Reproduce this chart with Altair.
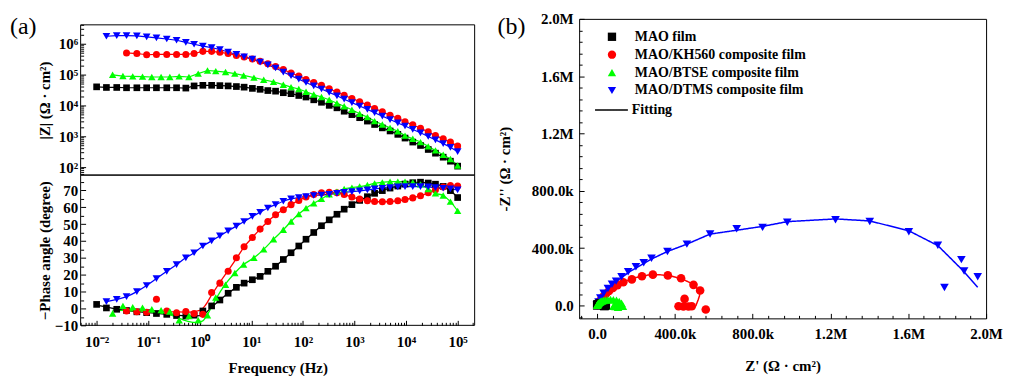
import altair as alt
import pandas as pd

FONT = "Liberation Serif"

SERIES = ["MAO film", "MAO/KH560 composite film", "MAO/BTSE composite film", "MAO/DTMS composite film"]
FIT_NAME = "Fitting"
COLORS = ["#000000", "#ff0000", "#00ff00", "#0000ff"]
SHAPES = ["square", "circle", "triangle-up", "triangle-down"]
BODE_SIZES = [45, 60, 65, 65]

# ---------------- Bode data (log10 of frequency / |Z|) ----------------
LOGF_LOW = [-2.00, -1.81, -1.61, -1.42, -1.22, -1.03, -0.84, -0.64, -0.45, -0.27, -0.11,
            0.06, 0.23, 0.39, 0.55, 0.71, 0.86, 1.02, 1.17, 1.32, 1.47]
LOGF_HIGH = [1.62, 1.77, 1.92, 2.06, 2.21, 2.36, 2.51, 2.66, 2.80, 2.95, 3.10, 3.25,
             3.39, 3.54, 3.69, 3.84, 3.98, 4.13, 4.28, 4.43, 4.57, 4.72, 4.86, 5.00]
LOGF_BTSE_LOW = [-1.69, -1.49, -1.30, -1.11, -0.93, -0.75, -0.58, -0.40, -0.21, -0.03,
                 0.15, 0.31, 0.50, 0.68, 0.85, 1.05, 1.24, 1.43]

LOGF_MAO = LOGF_LOW + LOGF_HIGH
LOGF_KH560 = LOGF_LOW[3:] + LOGF_HIGH
LOGF_BTSE = LOGF_BTSE_LOW + LOGF_HIGH
LOGF_DTMS = LOGF_LOW[1:] + LOGF_HIGH

LOGZ_MAO = [4.60, 4.58, 4.58, 4.57, 4.57, 4.57, 4.57, 4.57, 4.57, 4.56, 4.63, 4.65, 4.65, 4.64, 4.63,
            4.61, 4.59, 4.55, 4.52, 4.48, 4.46,
            4.41, 4.38, 4.32, 4.27, 4.18, 4.10, 4.00, 3.92, 3.81, 3.70, 3.60, 3.49, 3.38, 3.27, 3.17,
            3.06, 2.94, 2.81, 2.70, 2.57, 2.45, 2.32, 2.19, 2.03]
LOGZ_KH560 = [5.70, 5.68, 5.64, 5.65, 5.65, 5.65, 5.65, 5.68, 5.75, 5.75, 5.72, 5.68, 5.62, 5.57, 5.50,
              5.43, 5.35, 5.26,
              5.16, 5.05, 4.95, 4.84, 4.74, 4.65, 4.54, 4.43, 4.33, 4.22, 4.12, 4.01, 3.90, 3.79, 3.68,
              3.58, 3.47, 3.37, 3.26, 3.14, 3.02, 2.92, 2.81, 2.68]
LOGZ_BTSE = [4.99, 4.95, 4.94, 4.93, 4.92, 4.92, 4.92, 4.94, 4.92, 5.03, 5.13, 5.11, 5.08, 5.03, 4.97,
             4.90, 4.83, 4.76,
             4.67, 4.59, 4.53, 4.44, 4.35, 4.27, 4.18, 4.07, 3.97, 3.86, 3.73, 3.62, 3.49, 3.38, 3.27,
             3.16, 3.02, 2.92, 2.81, 2.67, 2.54, 2.40, 2.26, 2.05]
LOGZ_DTMS = [6.24, 6.26, 6.26, 6.25, 6.22, 6.19, 6.15, 6.11, 6.04, 5.98, 5.92, 5.87, 5.81, 5.73, 5.65,
             5.57, 5.50, 5.40, 5.31, 5.21,
             5.08, 4.96, 4.85, 4.74, 4.63, 4.53, 4.42, 4.31, 4.20, 4.09, 3.98, 3.87, 3.76, 3.65, 3.54,
             3.43, 3.33, 3.22, 3.11, 2.99, 2.88, 2.76, 2.64, 2.50]

PHASE_MAO = [2.4, 0.3, -0.5, -1.2, -2.0, -2.5, -3.0, -3.5, -4.2, -4.5, -4.0, -1.5, 1.5, 5.0, 9.0,
             12.5, 15.0, 17.0, 19.0, 22.0, 25.0,
             29.0, 33.0, 37.0, 41.0, 45.0, 49.0, 52.5, 55.8, 58.8, 61.5, 64.0, 66.2, 68.2, 69.8, 71.3,
             72.5, 73.7, 74.5, 74.8, 74.3, 73.6, 72.3, 69.8, 65.7]
PHASE_KH560 = [-1.5, -2.0, -2.3, 5.4, -1.5, -2.5, -1.8, -3.0, -3.5, 9.5, 15.0, 22.0, 30.0, 36.5, 42.0,
               47.0, 51.5, 55.5,
               58.5, 61.5, 64.0, 66.0, 67.5, 68.5, 68.8, 68.5, 67.5, 66.0, 64.8, 63.8, 63.3, 63.2, 63.3,
               63.8, 64.5, 65.5, 66.8, 68.5, 70.3, 72.0, 72.8, 72.5]
PHASE_BTSE = [-3.0, 1.5, 0.8, 0.5, -0.5, -1.0, -1.8, -7.0, -4.5, -7.0, -4.0, 6.5, 14.0, 21.0, 26.0,
              30.0, 35.0, 41.0,
              46.6, 51.5, 55.9, 59.4, 62.3, 64.9, 67.6, 69.2, 70.8, 71.6, 72.2, 73.1, 74.1, 74.7, 75.1,
              75.1, 75.1, 74.7, 73.5, 70.8, 68.2, 66.9, 63.3, 57.8]
PHASE_DTMS = [4.0, 5.4, 7.0, 10.0, 13.6, 17.7, 22.0, 26.0, 30.0, 33.0, 37.0, 40.0, 43.0, 46.0, 48.8,
              51.5, 54.5, 57.0, 59.5, 61.5,
              63.5, 64.9, 65.7, 66.3, 66.9, 67.2, 67.6, 68.2, 68.8, 69.2, 69.6, 70.2, 70.8, 71.2, 71.6,
              72.0, 72.2, 72.2, 72.2, 72.0, 71.6, 71.2, 70.8, 70.2]

# fitted phase curves at low frequency (they leave the scattered points)
FIT_LOGF_MAO_LOW = [-2.00, -1.50, -1.00, -0.50, -0.20, 0.00, 0.10, 0.23, 0.39]
FIT_PHASE_MAO_LOW = [2.0, -0.8, -2.5, -3.8, -4.6, -4.3, -3.0, 0.8, 5.0]
FIT_LOGF_KH560_LOW = [-1.42, -1.00, -0.50, -0.20, 0.00, 0.10, 0.23, 0.39, 0.55, 0.71]
FIT_PHASE_KH560_LOW = [-1.0, -1.5, -2.0, -2.2, -1.2, 1.5, 8.0, 15.5, 22.5, 29.5]
FIT_LOGF_BTSE_LOW = [-1.69, -1.20, -0.80, -0.50, -0.30, -0.10, 0.05, 0.15, 0.31, 0.50, 0.68, 0.85]
FIT_PHASE_BTSE_LOW = [-1.0, -1.5, -2.5, -4.5, -7.0, -8.3, -7.5, -3.5, 5.5, 14.5, 21.0, 26.0]

# ---------------- Nyquist data (kOhm cm2) ----------------
NYQ_MAO_RE = [1, 2, 3, 4.5, 6.4, 9, 11, 14, 17, 21, 25, 30, 34, 38, 42, 44, 45, 42, 39, 37, 37, 38, 38, 39]
NYQ_MAO_IM = [2, 3, 4.5, 6, 7.7, 9, 10, 11, 12, 12, 11.5, 11, 10, 8.5, 6.5, 4, 1, -1, -2.5, -3, -2, -1, 0, 1]
NYQ_KH560_RE = [2, 5, 9, 15, 23, 33, 46, 62, 82, 105, 135, 179, 231, 287, 364, 432, 496, 530, 450, 419,
                444, 470, 487, 559]
NYQ_KH560_IM = [4, 10, 19, 30, 45, 62, 82, 102, 122, 142, 162, 182, 204, 215, 210, 190, 144, 104, 46, -5,
                -7, -7, -5, -28]
NYQ_BTSE_RE = [1, 2, 4, 6, 9, 14, 19, 25, 32, 43, 55, 69, 84, 100, 114, 126, 133, 108, 95, 85, 88, 90, 92, 96]
NYQ_BTSE_IM = [2, 5, 9, 13, 17, 23, 28, 31, 34, 38, 40, 41, 40, 36, 28, 15, -5, -12, -8, -5, 0, -2, 1, 3]
NYQ_DTMS_RE = [0, 3, 8, 17, 34, 56, 77, 98, 126, 160, 200, 240, 280, 362, 462, 581, 718, 851, 978, 1226,
               1402, 1603, 1752, 1873, 1887, 1957, 1786]
NYQ_DTMS_IM = [5, 12, 25, 52, 85, 118, 148, 170, 200, 236, 270, 298, 330, 377, 428, 498, 535, 545, 580, 598,
               586, 515, 420, 320, 240, 200, 125]

FIT_MAO_RE = [0, 5, 10, 15, 20, 26, 32, 38, 42, 45, 44, 40, 37]
FIT_MAO_IM = [0, 7, 10, 11.5, 12, 11.5, 10.5, 8, 5.5, 1.5, -1, -2.5, -2.5]
FIT_KH560_RE = [0, 10, 30, 60, 100, 150, 200, 260, 320, 380, 432, 480, 510, 528, 527, 520, 512, 508]
FIT_KH560_IM = [0, 20, 58, 100, 140, 170, 195, 212, 215, 205, 188, 158, 125, 95, 68, 40, 12, -3]
FIT_BTSE_RE = [0, 10, 25, 45, 70, 95, 115, 128, 132, 122, 105, 92]
FIT_BTSE_IM = [0, 18, 31, 38, 41, 37, 27, 12, -4, -12, -11, -5]
FIT_DTMS_RE = [0, 10, 30, 60, 100, 170, 277, 362, 462, 581, 718, 851, 978, 1226, 1402, 1603, 1752, 1880, 1957]
FIT_DTMS_IM = [0, 25, 70, 120, 168, 238, 322, 377, 428, 498, 525, 552, 585, 604, 590, 521, 418, 245, 127]

# ---------------- scales domains and ticks ----------------
W_L, H_L = 396, 308          # left column: |Z| panel on top of phase panel (6 px free on top)
W_R, H_R = 409, 301

FREQ_DOMAIN = [10 ** -2.31, 10 ** 5.33]
MAG_FRAME = [10 ** 1.74, 10 ** 6.61]          # visible |Z| range of the upper panel
MAG_DOMAIN = [10 ** -3.13, 10 ** 6.8035]      # full column height in |Z| units
PHASE_FRAME = [-10, 79]                        # visible phase range of the lower panel
PHASE_DOMAIN = [-10, 171.54]                   # full column height in phase units
NYQ_X_DOMAIN = [-92000, 2000000]
NYQ_Y_DOMAIN = [-90000, 2000000]

FREQ_MAJOR = [0.01, 0.1, 1, 10, 100, 1000, 10000, 100000]
FREQ_MINOR = [m * 10.0 ** k for k in range(-3, 6) for m in range(2, 10)
              if FREQ_DOMAIN[0] <= m * 10.0 ** k <= FREQ_DOMAIN[1]]
MAG_MAJOR = [100, 1000, 10000, 100000, 1000000]
MAG_MINOR = [m * 10.0 ** k for k in range(1, 7) for m in range(2, 10)
             if MAG_FRAME[0] <= m * 10.0 ** k <= MAG_FRAME[1]]
PHASE_MAJOR = [-10, 0, 10, 20, 30, 40, 50, 60, 70]
PHASE_MINOR = [-5, 5, 15, 25, 35, 45, 55, 65, 75]
NYQ_MAJOR = [0, 400000, 800000, 1200000, 1600000, 2000000]
NYQ_MINOR = [k * 80000 for k in range(-1, 26) if k % 5 != 0]

SUP_EXPR = ("'10' + ['⁻³','⁻²','⁻¹','⁰','¹','²','³','⁴','⁵','⁶']"
            "[round(log(datum.value)/LN10)+3]")
NYQ_EXPR = ("datum.value == 0 ? '0.0' : (datum.value < 1000000 ? "
            "format(datum.value/1000, '.1f') + 'k' : format(datum.value/1000000, '.1f') + 'M')")
PHASE_EXPR = "datum.value < 0 ? '−' + abs(datum.value) : '' + datum.value"

AX = dict(labelFont=FONT, titleFont=FONT, labelFontWeight="bold", titleFontWeight="bold",
          labelColor="black", titleColor="black", tickColor="black", labelFontSize=15,
          titleFontSize=15, tickWidth=1, domain=False, grid=False, labelFlush=False)

# ---------------- build tables ----------------
def rows(name, xs, ys, fx=lambda v: v, fy=lambda v: v):
    return pd.DataFrame({"series": name, "x": [fx(v) for v in xs], "y": [fy(v) for v in ys],
                         "i": list(range(len(xs)))})


p10 = lambda v: 10 ** v
k1 = lambda v: v * 1000

mag_df = pd.concat([
    rows(SERIES[0], LOGF_MAO, LOGZ_MAO, p10, p10),
    rows(SERIES[1], LOGF_KH560, LOGZ_KH560, p10, p10),
    rows(SERIES[2], LOGF_BTSE, LOGZ_BTSE, p10, p10),
    rows(SERIES[3], LOGF_DTMS, LOGZ_DTMS, p10, p10),
])
phase_df = pd.concat([
    rows(SERIES[0], LOGF_MAO, PHASE_MAO, p10),
    rows(SERIES[1], LOGF_KH560, PHASE_KH560, p10),
    rows(SERIES[2], LOGF_BTSE, PHASE_BTSE, p10),
    rows(SERIES[3], LOGF_DTMS, PHASE_DTMS, p10),
])
phase_fit_df = pd.concat([
    rows(SERIES[0], FIT_LOGF_MAO_LOW + LOGF_MAO[14:], FIT_PHASE_MAO_LOW + PHASE_MAO[14:], p10),
    rows(SERIES[1], FIT_LOGF_KH560_LOW + LOGF_KH560[13:], FIT_PHASE_KH560_LOW + PHASE_KH560[13:], p10),
    rows(SERIES[2], FIT_LOGF_BTSE_LOW + LOGF_BTSE[15:], FIT_PHASE_BTSE_LOW + PHASE_BTSE[15:], p10),
    rows(SERIES[3], LOGF_DTMS, PHASE_DTMS, p10),
])
nyq_df = pd.concat([
    rows(SERIES[1], NYQ_KH560_RE, NYQ_KH560_IM, k1, k1),
    rows(SERIES[3], NYQ_DTMS_RE, NYQ_DTMS_IM, k1, k1),
    rows(SERIES[0], NYQ_MAO_RE, NYQ_MAO_IM, k1, k1),
    rows(SERIES[2], NYQ_BTSE_RE, NYQ_BTSE_IM, k1, k1),
])
nyq_fit_df = pd.concat([
    rows(SERIES[0], FIT_MAO_RE, FIT_MAO_IM, k1, k1),
    rows(SERIES[1], FIT_KH560_RE, FIT_KH560_IM, k1, k1),
    rows(SERIES[2], FIT_BTSE_RE, FIT_BTSE_IM, k1, k1),
    rows(SERIES[3], FIT_DTMS_RE, FIT_DTMS_IM, k1, k1),
])
nyq_fit_df["fit"] = FIT_NAME
one = pd.DataFrame({"a": [0]})

# ---------------- scales / encodings ----------------
color_scale = alt.Scale(domain=SERIES, range=COLORS)
shape_scale = alt.Scale(domain=SERIES, range=SHAPES)
size_scale = alt.Scale(domain=SERIES, range=BODE_SIZES)
fscale = alt.Scale(type="log", domain=FREQ_DOMAIN, nice=False)
mscale = alt.Scale(type="log", domain=MAG_DOMAIN, nice=False)
pscale = alt.Scale(domain=PHASE_DOMAIN, nice=False, zero=False)
nxs = alt.Scale(domain=NYQ_X_DOMAIN, nice=False, zero=False)
nys = alt.Scale(domain=NYQ_Y_DOMAIN, nice=False, zero=False)


def minor_y(width, values):
    return alt.Axis(orient="right", offset=-width, values=values, tickSize=3, labels=False,
                    title=None, **AX)


def minor_x(height, values):
    return alt.Axis(orient="top", offset=-height, values=values, tickSize=3, labels=False,
                    title=None, **AX)


def label(text, x, y):
    return alt.Chart(one).mark_text(
        align="left", baseline="middle", fontSize=24, font=FONT, color="black"
    ).encode(text=alt.value(text), x=alt.value(x), y=alt.value(y))


def frame(yscale, y_top, y_bottom):
    return alt.Chart(one).mark_rect(filled=False, stroke="black", strokeWidth=1).encode(
        x=alt.XDatum(FREQ_DOMAIN[0], type="quantitative", scale=fscale, axis=None),
        x2=alt.X2Datum(FREQ_DOMAIN[1]),
        y=alt.YDatum(y_top, type="quantitative", scale=yscale, axis=None),
        y2=alt.Y2Datum(y_bottom),
    )


series_color = alt.Color("series:N", scale=color_scale, legend=None)
series_shape = alt.Shape("series:N", scale=shape_scale, legend=None)
series_size = alt.Size("series:N", scale=size_scale, legend=None)

# ---------------- left column: |Z| and phase ----------------
mag_lines = alt.Chart(mag_df).mark_line(strokeWidth=1.2).encode(
    x=alt.X("x:Q", scale=fscale, axis=None),
    y=alt.Y("y:Q", scale=mscale, axis=minor_y(W_L, MAG_MINOR)),
    color=series_color, detail="series:N",
)
mag_pts = alt.Chart(mag_df).mark_point(filled=True, opacity=1).encode(
    x=alt.X("x:Q", scale=fscale, axis=None),
    y=alt.Y("y:Q", scale=mscale, axis=alt.Axis(
        orient="left", values=MAG_MAJOR, labelExpr=SUP_EXPR, tickSize=5, offset=-5, labelPadding=3,
        title="|Z| (Ω · cm²)", titleX=-41, titleY=81.5, titleBaseline="middle", titleAngle=270, **AX)),
    color=series_color, shape=series_shape, size=series_size,
)
ph_lines = alt.Chart(phase_fit_df).mark_line(strokeWidth=1.3, interpolate="monotone").encode(
    x=alt.X("x:Q", scale=fscale, axis=minor_x(H_L, FREQ_MINOR)),
    y=alt.Y("y:Q", scale=pscale, axis=minor_y(W_L, PHASE_MINOR)),
    color=series_color, detail="series:N",
)
ph_pts = alt.Chart(phase_df).mark_point(filled=True, opacity=1).encode(
    x=alt.X("x:Q", scale=fscale, axis=alt.Axis(
        orient="bottom", values=FREQ_MAJOR, labelExpr=SUP_EXPR, tickSize=5, offset=-5, labelPadding=9,
        title="Frequency (Hz)", titleX=W_L / 2, titleY=47, titleBaseline="middle", **AX)),
    y=alt.Y("y:Q", scale=pscale, axis=alt.Axis(
        orient="left", values=PHASE_MAJOR, labelExpr=PHASE_EXPR, tickSize=5, offset=-5, labelPadding=3,
        title="−Phase angle (degree)", titleX=-41, titleY=232.5, titleBaseline="middle", titleAngle=270,
        **AX)),
    color=series_color, shape=series_shape, size=series_size,
)
left = alt.layer(
    frame(mscale, MAG_FRAME[1], MAG_FRAME[0]),
    frame(pscale, PHASE_FRAME[1], PHASE_FRAME[0]),
    mag_lines, mag_pts, ph_lines, ph_pts,
    label("(a)", -71, 8),
).resolve_scale(y="independent").resolve_axis(x="independent", y="independent").properties(
    width=W_L, height=H_L, view=alt.ViewBackground(strokeOpacity=0))

# ---------------- Nyquist panel ----------------
leg_common = dict(title=None, labelFont=FONT, labelFontSize=14, labelFontWeight="bold",
                  labelColor="black", padding=0, labelLimit=400)
leg1 = alt.Legend(orient="none", legendX=26, legendY=11, symbolSize=70, labelOffset=16, rowPadding=4,
                  symbolStrokeWidth=0, **leg_common)
nyq_lines = alt.Chart(nyq_fit_df).mark_line(strokeWidth=1.5, color="black").encode(
    x=alt.X("x:Q", scale=nxs, axis=minor_x(H_R, NYQ_MINOR)),
    y=alt.Y("y:Q", scale=nys, axis=minor_y(W_R, NYQ_MINOR)),
    color=alt.Color("series:N", scale=color_scale, legend=leg1),
    strokeDash=alt.StrokeDash("fit:N", scale=alt.Scale(domain=[FIT_NAME], range=[[1, 0]]),
                              legend=alt.Legend(orient="none", legendX=15, legendY=74, symbolType="stroke",
                                                symbolSize=1089, symbolStrokeColor="black",
                                                symbolStrokeWidth=1.5, labelOffset=3, **leg_common)),
    order="i:Q",
)
nyq_pts = alt.Chart(nyq_df).mark_point(filled=True, opacity=1, size=75).encode(
    x=alt.X("x:Q", scale=nxs, axis=alt.Axis(
        orient="bottom", values=NYQ_MAJOR, labelExpr=NYQ_EXPR, tickSize=5, offset=-5, labelPadding=8,
        title="Z' (Ω · cm²)", titleX=W_R / 2, titleY=52, titleBaseline="middle", **AX)),
    y=alt.Y("y:Q", scale=nys, axis=alt.Axis(
        orient="left", values=NYQ_MAJOR, labelExpr=NYQ_EXPR, tickSize=5, offset=-5, labelPadding=6,
        title="-Z'' (Ω · cm²)", titleX=-80, titleY=H_R / 2, titleBaseline="middle", titleAngle=270, **AX)),
    color=alt.Color("series:N", scale=color_scale, legend=leg1),
    shape=alt.Shape("series:N", scale=shape_scale, legend=leg1),
)
right = alt.layer(nyq_lines, nyq_pts, label("(b)", -82, 8)).resolve_axis(
    x="independent", y="independent").properties(width=W_R, height=H_R)

chart = alt.hconcat(left, right, spacing=105, bounds="flush").resolve_scale(
    color="independent", shape="independent", strokeDash="independent"
).properties(
    padding={"left": 2, "top": 2, "right": 0, "bottom": 0}, background="white"
).configure_view(stroke="black", strokeWidth=1)

chart.save("out.html", embed_options={"renderer": "svg", "actions": False})
